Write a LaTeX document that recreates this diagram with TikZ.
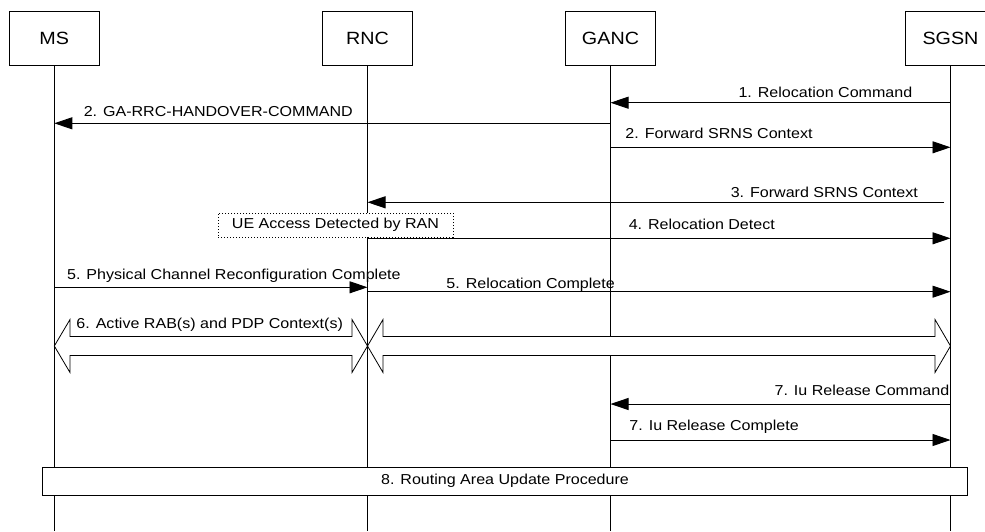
\documentclass[tikz,border=0pt]{standalone}
\usepackage{fontspec}
\setmainfont{Liberation Sans}[FakeStretch=1.115]
\usetikzlibrary{arrows.meta,calc}
\begin{document}
\begin{tikzpicture}[x=1pt,y=-1pt, line width=0.9pt,
  hdr/.style={draw, fill=white, minimum width=90pt, minimum height=54pt, inner sep=0pt, font=\fontsize{17.7}{20}\selectfont},
  lbl/.style={inner sep=0pt, font=\fontsize{14.4}{17}\selectfont},
  msg/.style={-{Triangle[length=18pt,width=12pt]}},
  life/.style={line width=1pt},
  blk/.style={draw, fill=white, line width=0.8pt, line join=miter},
  note/.style={draw, fill=white, dash pattern=on 1.2pt off 1.8pt, line width=0.8pt, lbl, minimum width=235pt, minimum height=24pt, text height=10.3pt, text depth=3.1pt},
  proc/.style={draw, fill=white, lbl, minimum width=924.5pt, minimum height=27.7pt, text height=10.3pt, text depth=3.1pt}
  ]
\clip (0,0) rectangle (985,531);
\fill[white] (0,0) rectangle (985,531);
% headers
\node[hdr] (ms) at (54.3,38) {MS};
\node[hdr] (rnc) at (367.5,38) {RNC};
\node[hdr] (ganc) at (610.5,38) {GANC};
\node[hdr] (sgsn) at (950.5,38) {SGSN};
\coordinate (msb) at (ms |- 0,531);
\coordinate (rncb) at (rnc |- 0,531);
\coordinate (gancb) at (ganc |- 0,531);
\coordinate (sgsnb) at (sgsn |- 0,531);
% lifelines
\draw[life] (ms.south) -- (msb);
\draw[life] (rnc.south) -- (rncb);
\draw[life] (ganc.south) -- (gancb);
\draw[life] (sgsn.south) -- (sgsnb);
% block arrows (6)
\draw[blk] (54.3,346) -- (70,319.5) -- (70,336.5) -- (352,336.5) -- (352,319.5) -- (367.5,346)
  -- (352,372.5) -- (352,355.5) -- (70,355.5) -- (70,372.5) -- cycle;
\draw[blk] (367.5,346) -- (383,319.5) -- (383,336.5) -- (935,336.5) -- (935,319.5) -- (950.5,346)
  -- (935,372.5) -- (935,355.5) -- (383,355.5) -- (383,372.5) -- cycle;
\draw[life] (ms |- 0,315) -- (ms |- 0,378);
\draw[life] (rnc |- 0,315) -- (rnc |- 0,378);
\draw[life] (sgsn |- 0,315) -- (sgsn |- 0,378);
\node[lbl, anchor=base west] (l6) at (76,328.3) {6. Active RAB(s) and PDP Context(s)};
% messages
\draw[msg] (sgsn |- 0,102.7) -- (ganc |- 0,102.7);
\node[lbl, anchor=base east] (l1) at (912.7,97.7) {1. Relocation Command};
\draw[msg] (ganc |- 0,123.3) -- (ms |- 0,123.3);
\node[lbl, anchor=base west] (l2a) at (83.3,116.7) {2. GA-RRC-HANDOVER-COMMAND};
\draw[msg] (ganc |- 0,147.3) -- (sgsn |- 0,147.3);
\node[lbl, anchor=base west] (l2b) at (625,138.3) {2. Forward SRNS Context};
\coordinate (s3) at ($(sgsn |- 0,202.3)+(-6.5,0)$);
\draw[msg] (s3) -- (rnc |- 0,202.3);
\node[lbl, anchor=base east] (l3) at (918.3,197.3) {3. Forward SRNS Context};
\node[note] (ue) at (335.5,225) {UE Access Detected by RAN};
\draw[msg] (rnc |- 0,238.3) -- (sgsn |- 0,238.3);
\node[lbl, anchor=base west] (l4) at (628.3,229.3) {4. Relocation Detect};
\draw[msg] (ms |- 0,287.3) -- (rnc |- 0,287.3);
\node[lbl, anchor=base west] (l5a) at (66.7,279) {5. Physical Channel Reconfiguration Complete};
\draw[msg] (rnc |- 0,291.7) -- (sgsn |- 0,291.7);
\node[lbl, anchor=base west] (l5b) at (446,288) {5. Relocation Complete};
\draw[msg] (sgsn |- 0,404) -- (ganc |- 0,404);
\node[lbl, anchor=base east] (l7a) at (949.7,395) {7. Iu Release Command};
\draw[msg] (ganc |- 0,440) -- (sgsn |- 0,440);
\node[lbl, anchor=base west] (l7b) at (629,430.7) {7. Iu Release Complete};
\node[proc] (rau) at (505,481.2) {8. Routing Area Update Procedure};
\end{tikzpicture}
\end{document}
